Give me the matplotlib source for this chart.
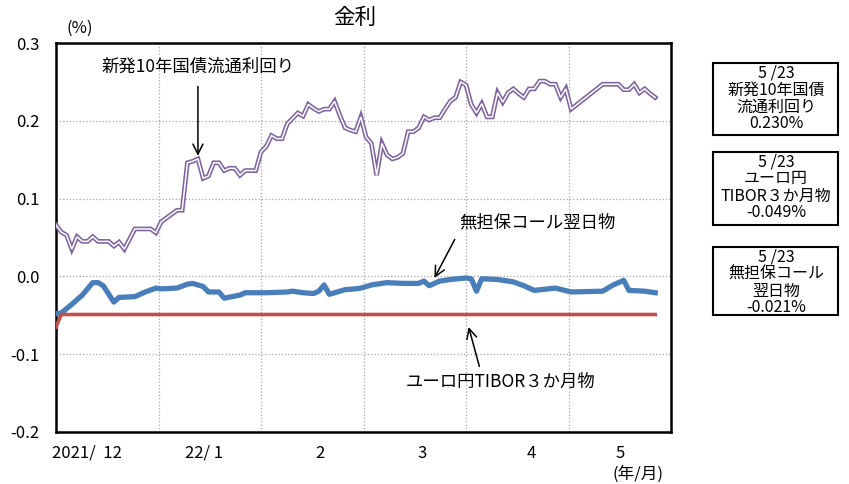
import numpy as np
import matplotlib.pyplot as plt
from matplotlib.patches import Rectangle

plt.rcParams['font.family'] = ['Noto Sans CJK JP', 'DejaVu Sans']

# business-day index (0 = 2021/12/1, 114 = 2022/5/23) and values (%)
jgb_x = [0, 1, 2, 3, 4, 5, 6, 7, 8, 9, 10, 11, 12, 13, 14, 15, 16, 17, 18, 19,
         20, 21, 22, 23, 24, 25, 26, 27, 28, 29, 30, 31, 32, 33, 34, 35, 36, 37, 38, 39,
         40, 41, 42, 43, 44, 45, 46, 47, 48, 49, 50, 51, 52, 53, 54, 55, 56, 57, 58, 59,
         60, 61, 62, 63, 64, 65, 66, 67, 68, 69, 70, 71, 72, 73, 74, 75, 76, 77, 78, 79,
         80, 81, 82, 83, 84, 85, 86, 87, 88, 89, 90, 91, 92, 93, 94, 95, 96, 97, 98,
         104, 105, 106, 107, 108, 109, 110, 111, 112, 113, 114]
jgb = [0.066, 0.057, 0.053, 0.035, 0.051, 0.045, 0.045, 0.051, 0.045, 0.045,
       0.045, 0.039, 0.044, 0.035, 0.048, 0.061, 0.061, 0.061, 0.061, 0.056,
       0.070, 0.075, 0.080, 0.085, 0.085, 0.146, 0.148, 0.151, 0.126, 0.129,
       0.146, 0.146, 0.136, 0.139, 0.139, 0.130, 0.136, 0.136, 0.136, 0.160,
       0.167, 0.181, 0.177, 0.177, 0.196, 0.203, 0.210, 0.206, 0.221, 0.216,
       0.212, 0.215, 0.215, 0.225, 0.207, 0.191, 0.188, 0.186, 0.205, 0.179,
       0.171, 0.130, 0.171, 0.156, 0.151, 0.153, 0.158, 0.186, 0.186, 0.191,
       0.205, 0.201, 0.204, 0.204, 0.215, 0.225, 0.230, 0.250, 0.246, 0.221,
       0.210, 0.222, 0.205, 0.205, 0.236, 0.224, 0.236, 0.241, 0.235, 0.230,
       0.241, 0.241, 0.251, 0.251, 0.247, 0.247, 0.230, 0.241, 0.215,
       0.247, 0.247, 0.247, 0.247, 0.240, 0.240, 0.247, 0.236, 0.241, 0.235, 0.230]

call_x = [0, 1, 3, 5, 7, 8, 9, 11, 12, 15, 17, 19, 20, 23, 25, 26, 28, 29, 31, 32,
          35, 36, 40, 44, 45, 47, 49, 50, 51, 52, 54, 55, 57, 58, 60, 63, 66, 69, 70, 71,
          73, 75, 78, 79, 80, 81, 84, 87, 89, 91, 95, 98, 104, 106, 108, 109, 112, 114]
call = [-0.048, -0.047, -0.036, -0.024, -0.008, -0.008, -0.012, -0.033, -0.027, -0.026,
        -0.020, -0.015, -0.016, -0.015, -0.010, -0.009, -0.013, -0.020, -0.020, -0.028,
        -0.024, -0.021, -0.021, -0.020, -0.019, -0.021, -0.022, -0.019, -0.011, -0.023,
        -0.019, -0.017, -0.016, -0.015, -0.011, -0.008, -0.009, -0.009, -0.006, -0.012,
        -0.006, -0.004, -0.002, -0.003, -0.019, -0.003, -0.004, -0.007, -0.012, -0.018,
        -0.015, -0.020, -0.019, -0.011, -0.005, -0.018, -0.019, -0.021]

tibor_x = [0, 1, 114]
tibor = [-0.065, -0.049, -0.049]

months = ['2021/  12', '22/ 1', '2', '3', '4', '5']
month_label_pos = [5.9, 28.2, 50.2, 69.7, 90.4, 107.3]
n_span = 117  # axis length in business-day units

box_lines = [['5 /23', '新発10年国債', '流通利回り', '0.230%'],
             ['5 /23', 'ユーロ円', 'TIBOR３か月物', '-0.049%'],
             ['5 /23', '無担保コール', '翌日物', '-0.021%']]

fs = 12

fig = plt.figure(figsize=(8.49, 4.84), dpi=100)
ax = fig.add_axes([56/849, 52/484, 615/849, 389/484])

ax.plot(jgb_x, jgb, color='#8064A2', lw=3.4, solid_joinstyle='miter', zorder=3)
ax.plot(jgb_x, jgb, color='white', lw=1.1, solid_joinstyle='miter', zorder=4)
ax.plot(call_x, call, color='#4A7EBB', lw=3.8, zorder=5)
ax.plot(tibor_x, tibor, color='#C0504D', lw=2.6, zorder=6)

ax.set_xlim(0, n_span)
ax.set_ylim(-0.2, 0.3)
step = n_span / 6
ax.set_xticks([step * k for k in range(1, 6)])
ax.set_xticklabels([])
ax.set_xticks(month_label_pos, minor=True)
ax.set_xticklabels(months, minor=True, fontsize=fs)
ax.set_yticks([-0.2, -0.1, 0.0, 0.1, 0.2, 0.3])
ax.set_yticklabels(['-0.2', '-0.1', '0.0', '0.1', '0.2', '0.3'], fontsize=fs)
ax.tick_params(which='both', length=0)
ax.tick_params(axis='y', pad=12)
ax.tick_params(axis='x', which='minor', pad=9)
ax.grid(True, which='major', color='#A6A6A6', linestyle=':', lw=0.9)
for s in ax.spines.values():
    s.set_linewidth(1.8)

fig.text(355/849, 1 - 18/484, '金利', ha='center', va='center', fontsize=15.5)
fig.text(80/849, 1 - 28/484, '(%)', ha='center', va='center', fontsize=fs)
fig.text(638/849, 1 - 474/484, '(年/月)', ha='center', va='center', fontsize=fs)

# annotations
ax.annotate('新発10年国債流通利回り', xy=(27, 0.155), xytext=(27.0, 0.27),
            ha='center', va='center', fontsize=12.5,
            arrowprops=dict(arrowstyle='->', color='black', lw=1.1,
                            shrinkA=6, shrinkB=0, mutation_scale=18))
ax.annotate('無担保コール翌日物', xy=(72, -0.002), xytext=(91.5, 0.069),
            ha='center', va='center', fontsize=12.5,
            arrowprops=dict(arrowstyle='->', color='black', lw=1.1,
                            relpos=(0.0, 0.0), shrinkA=4, shrinkB=0,
                            mutation_scale=18))
ax.annotate('ユーロ円TIBOR３か月物', xy=(78.5, -0.065), xytext=(84.5, -0.136),
            ha='center', va='center', fontsize=12.5,
            arrowprops=dict(arrowstyle='->', color='black', lw=1.1,
                            relpos=(0.4, 1.0), shrinkA=3, shrinkB=0,
                            mutation_scale=18))

# latest value boxes
box_tops = [63, 152, 247]
box_bots = [135, 225, 315]
for lines, top, bot in zip(box_lines, box_tops, box_bots):
    fig.patches.append(Rectangle((713/849, 1 - bot/484), 125/849, (bot - top)/484,
                                 transform=fig.transFigure, fill=False,
                                 edgecolor='black', lw=1.5))
    for i, line in enumerate(lines):
        fig.text(776/849, 1 - (top + 8 + 17 * i)/484, line, ha='center',
                 va='center_baseline', fontsize=11.5)

fig.savefig('out.png', dpi=100)
